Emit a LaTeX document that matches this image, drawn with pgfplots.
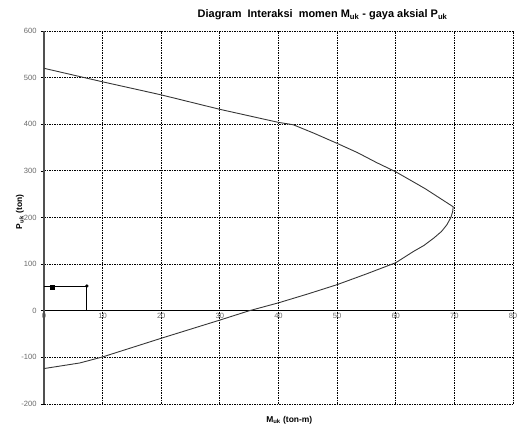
\documentclass[border=0pt]{standalone}
\usepackage{fontspec}
\setmainfont{Liberation Sans}
\usepackage{pgfplots}
\pgfplotsset{compat=1.18}
\definecolor{curve}{RGB}{55,55,55}
\definecolor{ticklab}{RGB}{105,105,105}
\definecolor{yaxis}{RGB}{80,80,80}
\begin{document}
\begin{tikzpicture}
\path[use as bounding box] (-44bp,-21bp) rectangle (476bp,404bp);
\begin{axis}[
  at={(0,0)}, anchor=south west, scale only axis,
  width=469bp, height=373bp,
  xmin=0, xmax=80, ymin=-200, ymax=600,
  xtick={0,10,...,80}, ytick={-200,-100,...,600},
  axis line style={draw=none},
  xtick style={draw=none},
  ytick pos=left,
  ytick style={black, line width=0.6bp},
  ytick align=outside, major tick length=3bp,
  grid=major,
  major grid style={black, line width=0.8bp, dash pattern=on 1.6bp off 0.9bp},
  /pgf/number format/assume math mode=true,
  tick label style={font=\fontsize{7.6}{8}\selectfont, text=ticklab},
  xticklabel style={yshift=93.25bp+1bp},
  yticklabel style={xshift=-1bp},
  clip=false,
]
\draw[black, line width=0.8bp] (axis cs:0,0) -- (axis cs:80,0);
\draw[yaxis, line width=1.6bp] (rel axis cs:0,0) -- (rel axis cs:0,1);
\addplot[curve, line width=0.9bp, no markers] coordinates {
 (0,520) (10,491) (20,463) (30,432) (40,404) (42.5,399)
 (46,381) (50,359) (53.5,339) (56.7,318) (60,298) (65,262) (69.8,223)
 (69.7,212) (69.4,200) (68.7,184) (67.8,170) (66.5,156) (64.8,140) (63,127)
 (60,103) (55,79) (50,56) (45,36) (40,17) (35,0) (30,-20) (20,-59)
 (10,-99) (6.1,-112) (0,-124)
};
\addplot[black, line width=0.8bp, no markers] coordinates {(0,53) (7.3,53) (7.3,0)};
\addplot[black, only marks, mark=*, mark size=1.5bp] coordinates {(7.3,53)};
\addplot[black, only marks, mark=square*, mark size=2bp] coordinates {(1.4,50)};
\node[font=\fontsize{11}{13}\selectfont\bfseries, anchor=center] at (rel axis cs:0.594,1.043) {Diagram\ \ Interaksi\ \ momen M\textsubscript{uk} - gaya aksial P\textsubscript{uk}};
\node[font=\fontsize{8.5}{10}\selectfont\bfseries, anchor=center] at (rel axis cs:0.523,-0.043) {M\textsubscript{uk} (ton-m)};
\node[font=\fontsize{8.5}{10}\selectfont\bfseries, anchor=center, rotate=90] at (rel axis cs:-0.0512,0.515) {P\textsubscript{uk} (ton)};
\end{axis}
\end{tikzpicture}
\end{document}
